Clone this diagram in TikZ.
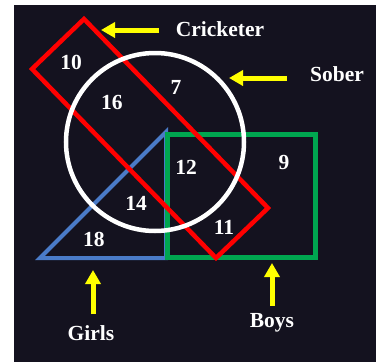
\documentclass[tikz,border=0pt]{standalone}
\usepackage{fontspec}
\setmainfont{Liberation Serif}
\usetikzlibrary{positioning, arrows.meta}
\definecolor{bgnavy}{HTML}{14121F}
\definecolor{setred}{HTML}{FF0000}
\definecolor{setblue}{HTML}{4A7BC8}
\definecolor{setgreen}{HTML}{00A650}
\definecolor{tagyellow}{HTML}{FFFF00}

\begin{document}
\begin{tikzpicture}[x=1pt, y=-1pt, font=\bfseries\fontsize{21.5}{23}\selectfont,
  num/.style={text=white, inner sep=0pt},
  lbl/.style={text=white, inner sep=0pt},
  pt/.style={-{Triangle[length=14pt, width=15pt]}, line width=5pt, tagyellow},
]
  \useasboundingbox (0,0) rectangle (376,362);
  \fill[white] (0,0) rectangle (376,362);
  \fill[bgnavy] (14,5) rectangle (376,362);

  % the four sets
  \draw[setblue, line width=4pt, line join=miter] (40,258) -- (166,132) -- (166,258) -- cycle;
  \draw[setgreen, line width=5pt] (167,134) rectangle (315,257);
  \draw[setred, line width=4.5pt, line join=miter] (84,19) -- (268,208) -- (216,258) -- (32,69) -- cycle;
  \draw[white, line width=4.5pt] (155,142) circle[radius=89pt];

  \foreach \xn/\xx/\xy in {10/71/62, 16/112/102, 7/176/87, 12/186/167,
                           9/284/162, 14/136/203, 18/94/239, 11/224/227} {
    \node[num] (n\xn) at (\xx,\xy) {\xn};
  }

  \node[lbl] (cricketer) at (220,29) {Cricketer};
  \node[lbl] (sober) at (337,74) {Sober};
  \node[lbl] (girls) at (91,333) {Girls};
  \node[lbl] (boys) at (272,323) {Boys};

  \coordinate (tc) at (159,30);  \coordinate (hc) at (101,30);
  \coordinate (ts) at (287,78);  \coordinate (hs) at (229,78);
  \coordinate (tg) at (93,314);  \coordinate (hg) at (93,270);
  \coordinate (tb) at (272,306); \coordinate (hb) at (272,263);
  \draw[pt] (tc) -- (hc);
  \draw[pt] (ts) -- (hs);
  \draw[pt] (tg) -- (hg);
  \draw[pt] (tb) -- (hb);
\end{tikzpicture}
\end{document}
